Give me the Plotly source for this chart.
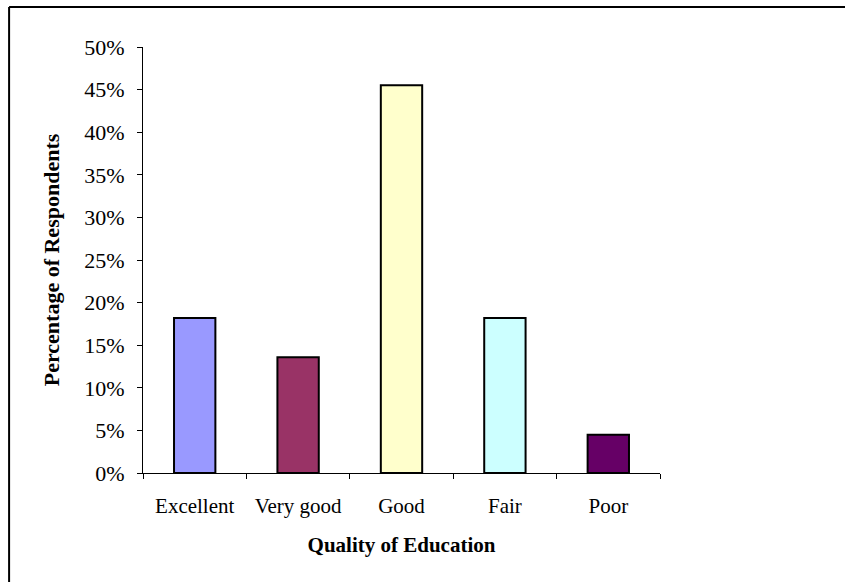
import plotly.graph_objects as go

categories = ["Excellent", "Very good", "Good", "Fair", "Poor"]
percentages = [18.2, 13.6, 45.5, 18.2, 4.5]
bar_colors = ["#9999FF", "#993366", "#FFFFCC", "#CCFFFF", "#660066"]

y_ticks = list(range(0, 55, 5))
y_tick_labels = [f"{v}%" for v in y_ticks]

font_family = "Liberation Serif, Times New Roman, serif"

fig = go.Figure()

fig.add_trace(
    go.Bar(
        x=categories,
        y=percentages,
        marker=dict(color=bar_colors, line=dict(color="black", width=2)),
        showlegend=False,
    )
)

# chart-area border: only its top and left edges are inside the picture
border = dict(color="black", width=2)

fig.update_layout(
    width=845,
    height=582,
    margin=dict(l=143, r=185, t=47, b=109),
    paper_bgcolor="white",
    plot_bgcolor="white",
    bargap=0.6,
    font=dict(family=font_family, color="black", size=21),
    shapes=[
        dict(type="line", xref="paper", yref="paper",
             x0=-0.259, x1=1.6, y0=1.094, y1=1.094, line=border, layer="below"),
        dict(type="line", xref="paper", yref="paper",
             x0=-0.259, x1=-0.259, y0=-0.5, y1=1.094, line=border, layer="below"),
    ],
)

fig.update_xaxes(
    showline=True, linecolor="black", linewidth=1,
    ticks="outside", ticklen=5, tickcolor="black", tickson="boundaries",
    tickfont=dict(size=21), ticklabelstandoff=14,
    title=dict(text="<b>Quality of Education</b>", font=dict(size=21), standoff=20),
    showgrid=False,
)

fig.update_yaxes(
    range=[0, 50],
    tickvals=y_ticks, ticktext=y_tick_labels,
    showline=True, linecolor="black", linewidth=1,
    ticks="outside", ticklen=5, tickcolor="black",
    tickfont=dict(size=22), ticklabelstandoff=8,
    title=dict(text="<b>Percentage of Respondents</b>", font=dict(size=22), standoff=18),
    showgrid=False, zeroline=False,
)

# drop the default page margin so the figure fills the window exactly
fig.write_html(
    "out.html",
    config={"displayModeBar": False},
    post_script="document.body.style.margin='0';document.body.style.overflow='hidden';",
)
